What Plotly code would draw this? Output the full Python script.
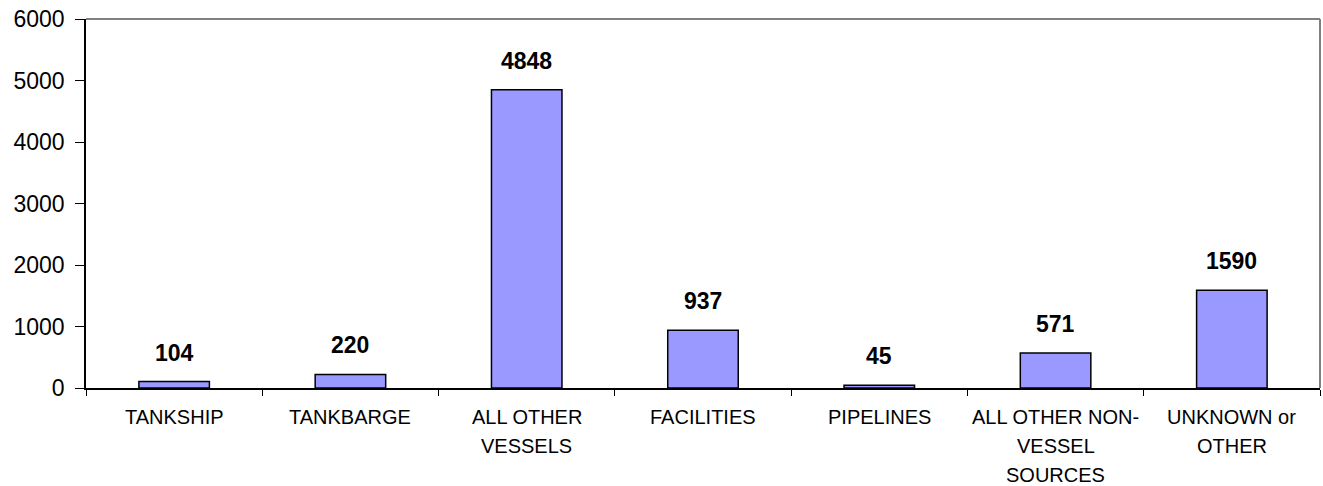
import plotly.graph_objects as go

categories = ["TANKSHIP", "TANKBARGE", "ALL OTHER VESSELS", "FACILITIES", "PIPELINES",
              "ALL OTHER NON-VESSEL SOURCES", "UNKNOWN or OTHER"]
tick_label_lines = [["TANKSHIP"], ["TANKBARGE"], ["ALL OTHER", "VESSELS"], ["FACILITIES"],
                    ["PIPELINES"], ["ALL OTHER NON-", "VESSEL", "SOURCES"], ["UNKNOWN or", "OTHER"]]
values = [104, 220, 4848, 937, 45, 571, 1590]
y_ticks = [0, 1000, 2000, 3000, 4000, 5000, 6000]

FONT = "Liberation Sans, Arial"

fig = go.Figure()
fig.add_trace(go.Bar(
    x=categories, y=values,
    marker=dict(color="#9999FF", line=dict(color="black", width=1.5)),
    width=0.4,
))

for c, v in zip(categories, values):
    fig.add_annotation(x=c, y=v, text=f"<b>{v}</b>", showarrow=False,
                       yanchor="bottom", yshift=14,
                       font=dict(family=FONT, size=23, color="black"))

for c, lines in zip(categories, tick_label_lines):
    for i, line in enumerate(lines):
        fig.add_annotation(x=c, xref="x", y=0, yref="paper", text=line, showarrow=False,
                           yanchor="middle", yshift=-29 - 29 * i,
                           font=dict(family=FONT, size=20, color="black"))

fig.update_layout(
    width=1323, height=486,
    margin=dict(l=86, r=3, t=19, b=98),
    plot_bgcolor="white", paper_bgcolor="white",
    showlegend=False,
    font=dict(family=FONT, color="black"),
    shapes=[
        dict(type="line", xref="paper", yref="paper", x0=0, x1=1, y0=1, y1=1,
             line=dict(color="#808080", width=2)),
        dict(type="line", xref="paper", yref="paper", x0=1, x1=1, y0=0, y1=1,
             line=dict(color="#808080", width=2)),
    ],
)
fig.update_xaxes(
    tickmode="array", tickvals=categories, showticklabels=False,
    tickson="boundaries", ticks="outside", ticklen=6, tickcolor="black",
    showline=True, linecolor="black", linewidth=1.5, showgrid=False,
    automargin=False,
)
fig.update_yaxes(
    range=[0, 6000], tickvals=y_ticks,
    ticks="outside", ticklen=9, tickcolor="black",
    showline=True, linecolor="black", linewidth=1.5, showgrid=False, zeroline=False,
    tickfont=dict(size=23, color="black"), ticklabelstandoff=6,
    automargin=False,
)

fig.write_html("out.html", config={"displayModeBar": False},
               post_script="document.body.style.margin='0';")
